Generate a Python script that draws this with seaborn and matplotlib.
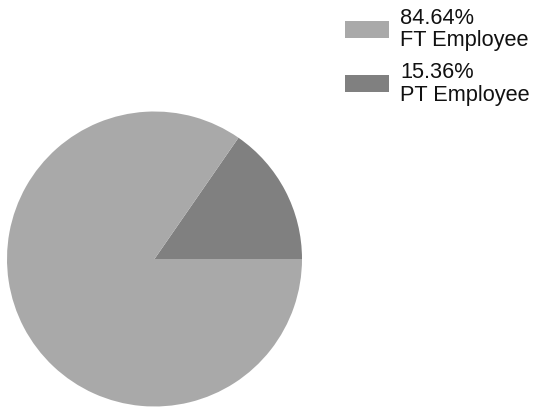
import matplotlib
matplotlib.use("Agg")
import matplotlib.pyplot as plt
import matplotlib.patches as mpatches
import seaborn as sns

categories = ["FT Employee", "PT Employee"]
percents = [84.64, 15.36]
colors = ["#A9A9A9", "#808080"]

sns.set_theme(style="white")
plt.rcParams['font.family'] = ['Liberation Sans', 'DejaVu Sans']

fig = plt.figure(figsize=(5.34, 4.10), dpi=100)
ax = fig.add_axes([7/534, 2/410, 295/534, 296/410])

# draw PT first so it starts at 0 deg going counter-clockwise
order = [1, 0]
ax.pie([percents[i] for i in order], colors=[colors[i] for i in order],
       startangle=0, counterclock=True, radius=1.0,
       wedgeprops=dict(linewidth=0))
ax.set_xlim(-1.0, 1.0)
ax.set_ylim(-1.0, 1.0)
ax.set_aspect('equal')
ax.axis('off')

handles = [mpatches.Patch(facecolor=c, edgecolor='none') for c in colors]
labels = [f"{p:.2f}%\n{c}" for p, c in zip(percents, categories)]
leg = fig.legend(handles, labels, loc='upper left',
                 bbox_to_anchor=(345/534, 1 - 8/410), frameon=False,
                 fontsize=15.7, borderpad=0, borderaxespad=0,
                 handlelength=2.02, handleheight=0.83, handletextpad=0.5,
                 labelspacing=0.5)
for t in leg.get_texts():
    t.set_linespacing(1.09)
    t.set_color('#111111')

fig.savefig("out.png", dpi=100)
